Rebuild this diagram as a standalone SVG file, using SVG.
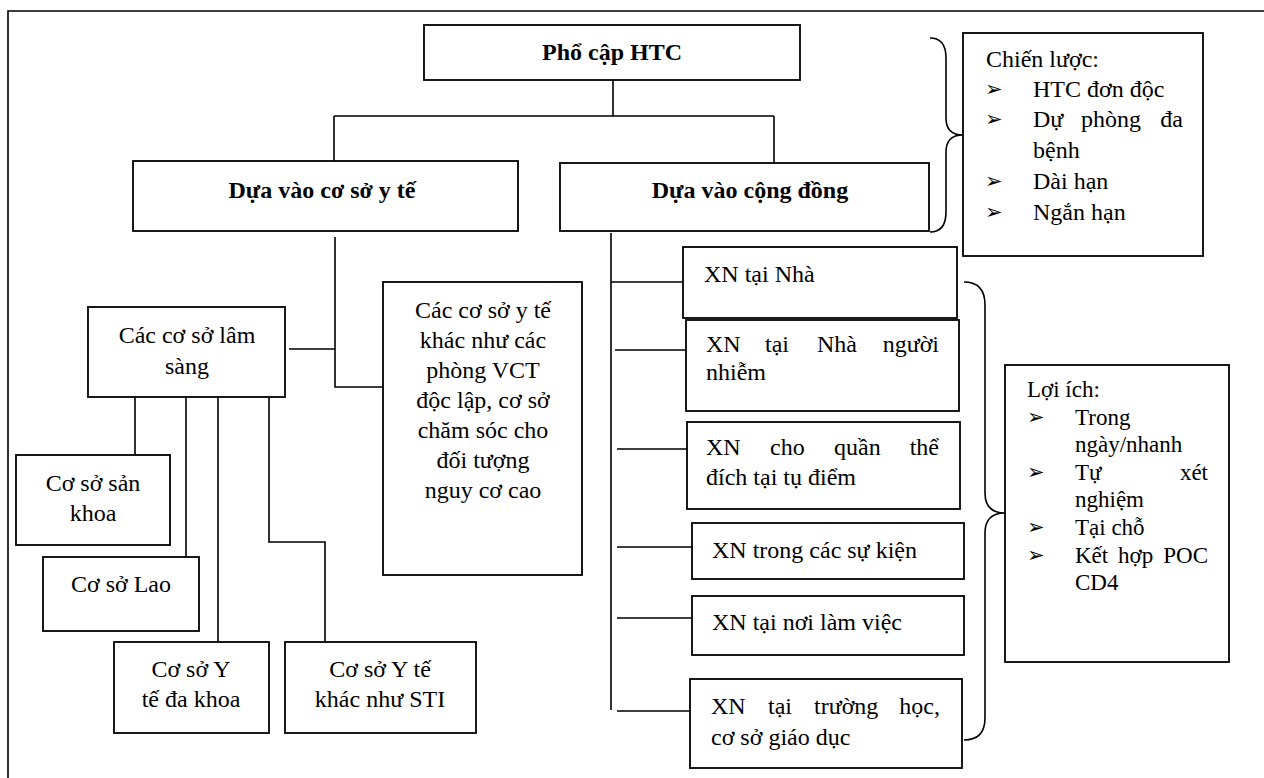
<svg xmlns="http://www.w3.org/2000/svg" width="1264" height="778" viewBox="0 0 1264 778">
<style>
.box{fill:#fff;stroke:#000;stroke-width:1.8}
.ln{fill:none;stroke:#000;stroke-width:1.6}
.t{font-size:24px;fill:#000}
.b{font-weight:bold}
.c{text-anchor:middle}
.e{text-anchor:end}
.s{font-size:23px}
.ar{font-size:21px;fill:#000}
</style>
<rect width="1264" height="778" fill="#fff"/>
<path class="ln" d="M8,778 V11 H1264" stroke-width="2.2"/>

<g id="connectors">
<path class="ln" d="M613,80 V116 M334,116 H774 M334,116 V161 M774,116 V163"/>
<path class="ln" d="M335,237 V387 H383 M289,349 H335"/>
<path class="ln" d="M135,397 V455 M186,394 V557 M218,397 V642 M269,397 V542 H325 V642"/>
<path class="ln" d="M611,233 V710 M611,282 H683 M615,350 H686 M617,449 H687 M617,547 H692 M617,618 H692 M617,711 H690"/>
<path class="ln" d="M930,38 Q946,38 946,58 L946,118 Q946,135 963,135 Q946,135 946,152 L946,212 Q946,232 930,232"/>
<path class="ln" d="M964,282 Q985,282 985,305 L985,493 Q985,513 1005,513 Q985,513 985,533 L985,718 Q985,740 964,740"/>
</g>

<g font-family="Liberation Serif, Times New Roman, DejaVu Serif, serif">
<g id="n-root">
<rect class="box" x="424" y="25" width="376" height="55"/>
<text class="t b c" x="612" y="60">Phổ cập HTC</text>
</g>
<g id="n-coso">
<rect class="box" x="133" y="161" width="385" height="70"/>
<text class="t b c" x="322" y="198">Dựa vào cơ sở y tế</text>
</g>
<g id="n-congdong">
<rect class="box" x="560" y="163" width="369" height="68"/>
<text class="t b c" x="750" y="198">Dựa vào cộng đồng</text>
</g>
<g id="n-chienluoc">
<rect class="box" x="963" y="33" width="240" height="223"/>
<text class="t" x="986" y="67">Chiến lược:</text>
<text class="ar" x="985" y="96" font-family="DejaVu Sans, sans-serif">➢</text>
<text class="t" x="1033" y="97">HTC đơn độc</text>
<text class="ar" x="985" y="126" font-family="DejaVu Sans, sans-serif">➢</text>
<text class="t" x="1033" y="127">Dự</text>
<text class="t" x="1081" y="127">phòng</text>
<text class="t e" x="1183" y="127">đa</text>
<text class="t" x="1033" y="158">bệnh</text>
<text class="ar" x="985" y="188" font-family="DejaVu Sans, sans-serif">➢</text>
<text class="t" x="1033" y="189">Dài hạn</text>
<text class="ar" x="985" y="219" font-family="DejaVu Sans, sans-serif">➢</text>
<text class="t" x="1033" y="220">Ngắn hạn</text>
</g>
<g id="n-lamsang">
<rect class="box" x="88" y="307" width="197" height="90"/>
<text class="t c" x="187" y="343">Các cơ sở lâm</text>
<text class="t c" x="187" y="374">sàng</text>
</g>
<g id="n-khac">
<rect class="box" x="383" y="282" width="199" height="293"/>
<text class="t c" x="483" y="318">Các cơ sở y tế</text>
<text class="t c" x="483" y="348">khác như các</text>
<text class="t c" x="483" y="378">phòng VCT</text>
<text class="t c" x="483" y="408">độc lập, cơ sở</text>
<text class="t c" x="483" y="438">chăm sóc cho</text>
<text class="t c" x="483" y="468">đối tượng</text>
<text class="t c" x="483" y="498">nguy cơ cao</text>
</g>
<g id="n-sankhoa">
<rect class="box" x="16" y="455" width="154" height="90"/>
<text class="t c" x="93" y="491">Cơ sở sản</text>
<text class="t c" x="93" y="521">khoa</text>
</g>
<g id="n-lao">
<rect class="box" x="43" y="557" width="156" height="74"/>
<text class="t c" x="121" y="592">Cơ sở Lao</text>
</g>
<g id="n-dakhoa">
<rect class="box" x="114" y="642" width="155" height="91"/>
<text class="t c" x="191" y="677">Cơ sở Y</text>
<text class="t c" x="191" y="707">tế đa khoa</text>
</g>
<g id="n-sti">
<rect class="box" x="285" y="642" width="191" height="91"/>
<text class="t c" x="380" y="677">Cơ sở Y tế</text>
<text class="t c" x="380" y="707">khác như STI</text>
</g>
<g id="n-nha">
<rect class="box" x="683" y="247" width="274" height="71"/>
<text class="t" x="704" y="282">XN tại Nhà</text>
</g>
<g id="n-nhiem">
<rect class="box" x="686" y="320" width="273" height="91"/>
<text class="t" x="706" y="352">XN</text>
<text class="t" x="765" y="352">tại</text>
<text class="t" x="817" y="352">Nhà</text>
<text class="t e" x="939" y="352">người</text>
<text class="t" x="706" y="380">nhiễm</text>
</g>
<g id="n-tudiem">
<rect class="box" x="687" y="422" width="273" height="87"/>
<text class="t" x="706" y="455">XN</text>
<text class="t" x="770" y="455">cho</text>
<text class="t" x="834" y="455">quần</text>
<text class="t e" x="939" y="455">thể</text>
<text class="t" x="706" y="485">đích tại tụ điểm</text>
</g>
<g id="n-sukien">
<rect class="box" x="692" y="523" width="272" height="56"/>
<text class="t" x="712" y="558">XN trong các sự kiện</text>
</g>
<g id="n-noilamviec">
<rect class="box" x="692" y="596" width="272" height="59"/>
<text class="t" x="712" y="630">XN tại nơi làm việc</text>
</g>
<g id="n-truonghoc">
<rect class="box" x="690" y="679" width="272" height="89"/>
<text class="t" x="711" y="714">XN</text>
<text class="t" x="768" y="714">tại</text>
<text class="t" x="814" y="714">trường</text>
<text class="t e" x="940" y="714">học,</text>
<text class="t" x="711" y="745">cơ sở giáo dục</text>
</g>
<g id="n-loiich">
<rect class="box" x="1005" y="365" width="224" height="297"/>
<text class="t s" x="1027" y="397">Lợi ích:</text>
<text class="ar" x="1027" y="424" font-family="DejaVu Sans, sans-serif">➢</text>
<text class="t s" x="1075" y="425">Trong</text>
<text class="t s" x="1075" y="452">ngày/nhanh</text>
<text class="ar" x="1027" y="479" font-family="DejaVu Sans, sans-serif">➢</text>
<text class="t s" x="1075" y="480">Tự</text>
<text class="t s e" x="1208" y="480">xét</text>
<text class="t s" x="1075" y="507">nghiệm</text>
<text class="ar" x="1027" y="534" font-family="DejaVu Sans, sans-serif">➢</text>
<text class="t s" x="1075" y="535">Tại chỗ</text>
<text class="ar" x="1027" y="562" font-family="DejaVu Sans, sans-serif">➢</text>
<text class="t s" x="1075" y="563">Kết</text>
<text class="t s" x="1118" y="563">hợp</text>
<text class="t s e" x="1208" y="563">POC</text>
<text class="t s" x="1075" y="590">CD4</text>
</g>
</g>
</svg>
